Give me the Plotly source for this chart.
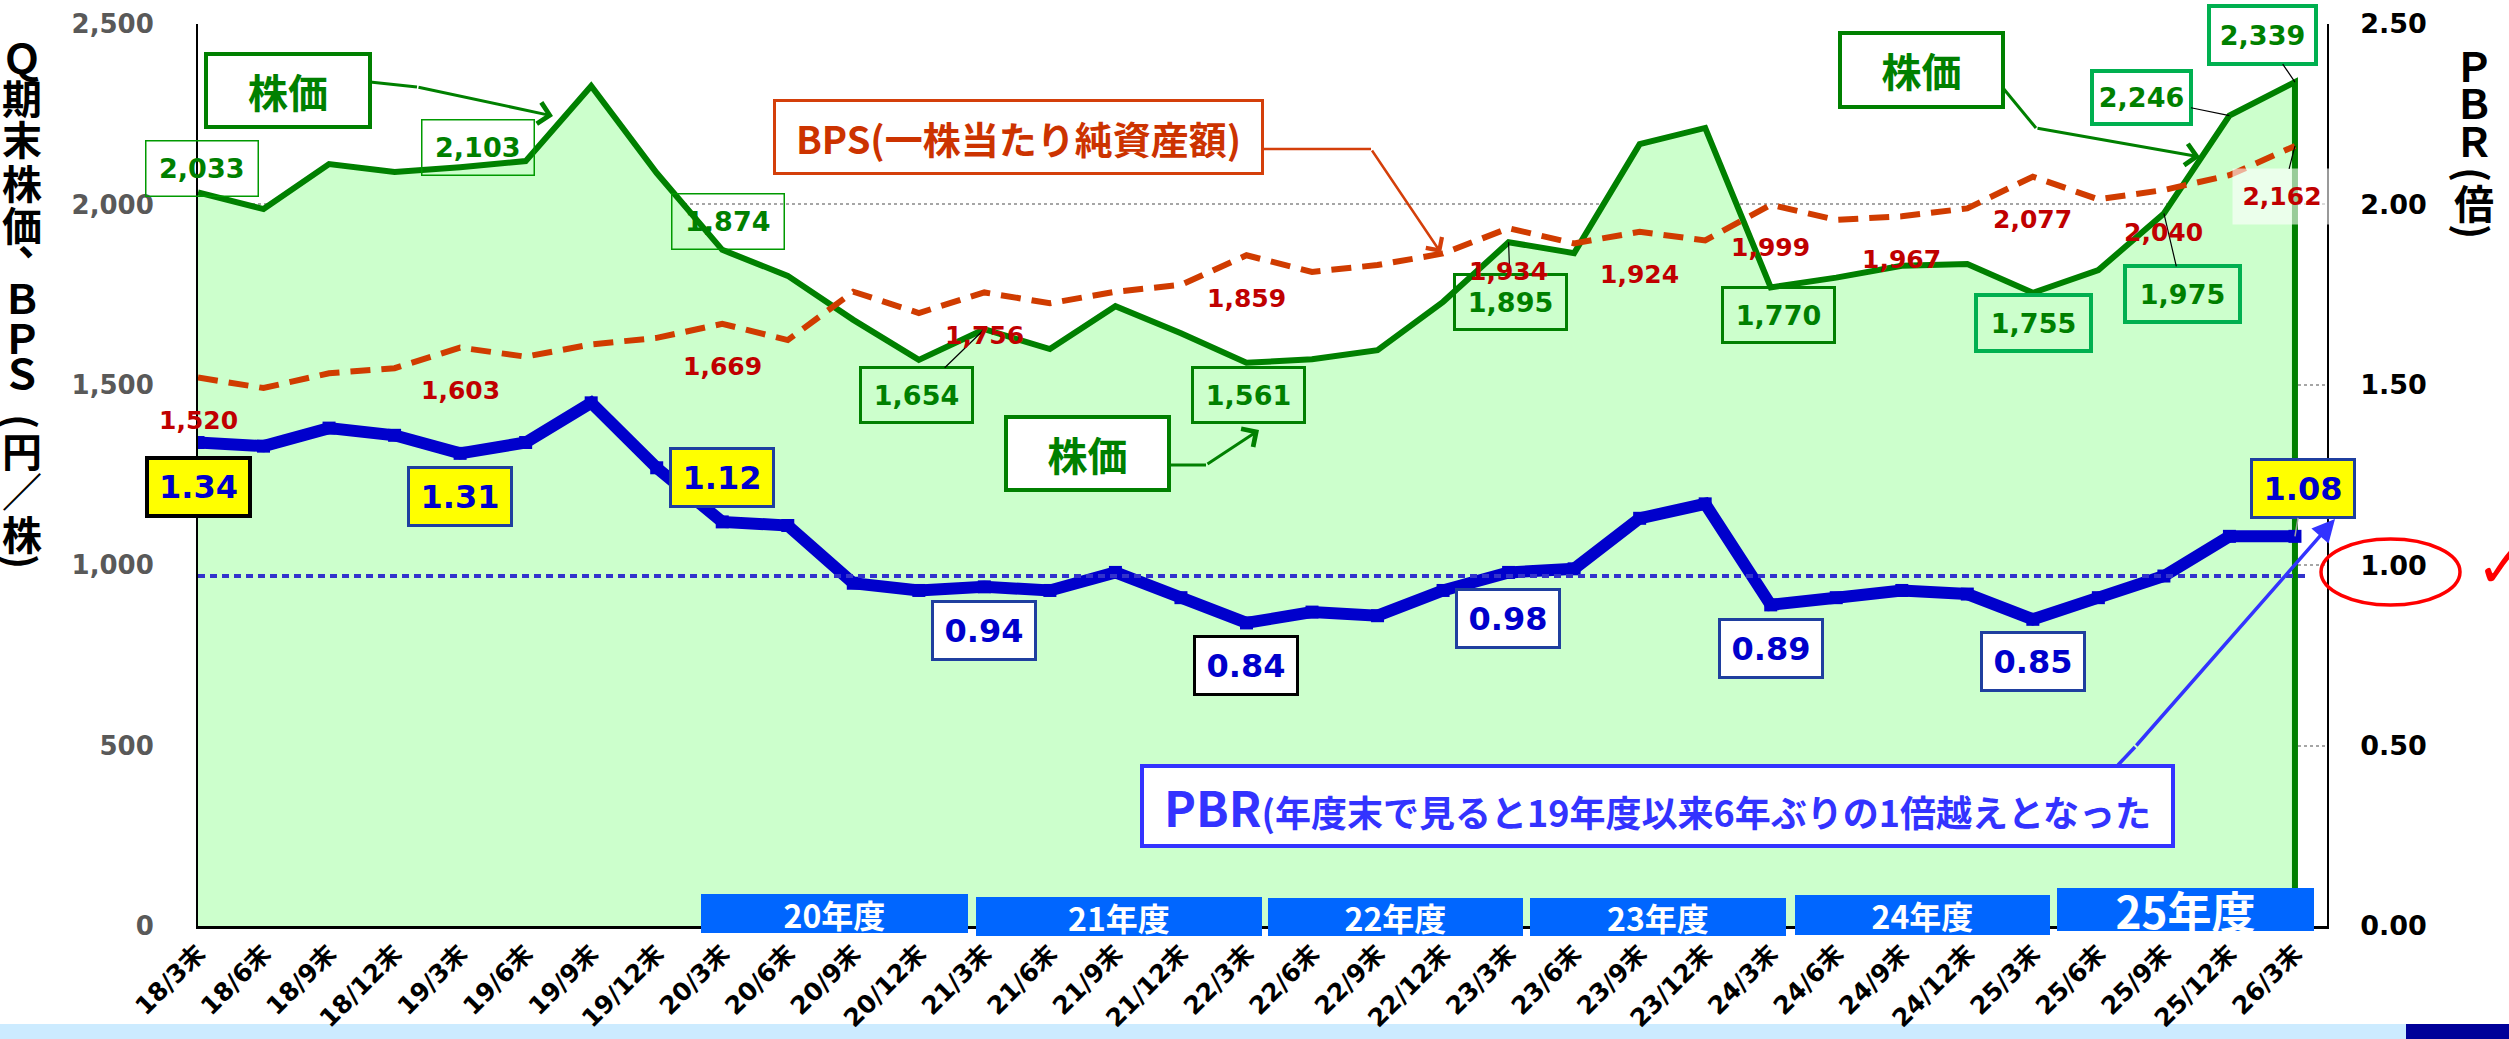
import plotly.graph_objects as go

# ---------------- data ----------------
categories = ["18/3末", "18/6末", "18/9末", "18/12末", "19/3末", "19/6末", "19/9末", "19/12末",
              "20/3末", "20/6末", "20/9末", "20/12末", "21/3末", "21/6末", "21/9末", "21/12末",
              "22/3末", "22/6末", "22/9末", "22/12末", "23/3末", "23/6末", "23/9末", "23/12末",
              "24/3末", "24/6末", "24/9末", "24/12末", "25/3末", "25/6末", "25/9末", "25/12末", "26/3末"]
price = [2033, 1987, 2112, 2090, 2103, 2120, 2328, 2087, 1874, 1802, 1680, 1569, 1654, 1599, 1718, 1643,
         1561, 1571, 1596, 1730, 1895, 1865, 2167, 2212, 1770, 1797, 1830, 1835, 1755, 1818, 1975, 2246, 2339]
bps = [1520, 1491, 1532, 1546, 1603, 1578, 1612, 1630, 1669, 1624, 1758, 1699, 1756, 1726, 1758, 1777,
       1859, 1813, 1832, 1864, 1934, 1892, 1924, 1900, 1999, 1957, 1967, 1989, 2077, 2014, 2040, 2081, 2162]
pbr = [1.34, 1.33, 1.38, 1.36, 1.31, 1.34, 1.45, 1.27, 1.12, 1.11, 0.95, 0.93, 0.94, 0.93, 0.98, 0.91,
       0.84, 0.87, 0.86, 0.93, 0.98, 0.99, 1.13, 1.17, 0.89, 0.91, 0.93, 0.92, 0.85, 0.91, 0.97, 1.08, 1.08]
pbr_guide_level = 0.97
price_label_idx = [0, 4, 8, 12, 16, 20, 24, 28, 30, 31, 32]
bps_label_idx = [0, 4, 8, 12, 16, 20, 22, 24, 26, 28, 30, 32]
pbr_label_idx = [0, 4, 8, 12, 16, 20, 24, 28, 32]
fiscal_years = ["20年度", "21年度", "22年度", "23年度", "24年度", "25年度"]
left_ticks = [0, 500, 1000, 1500, 2000, 2500]
right_ticks = [0.0, 0.5, 1.0, 1.5, 2.0, 2.5]
left_title = ["Ｑ", "期", "末", "株", "価", "、", "Ｂ", "Ｐ", "Ｓ", "(", "円", "／", "株", ")"]
right_title = ["Ｐ", "Ｂ", "Ｒ", "(", "倍", ")"]

# ---------------- geometry ----------------
FIG_W, FIG_H = 2509, 1039
L, T, W, H = 198, 24, 2129, 902
STEP = 65.53
X_MAX = W / STEP


def px2x(px):
    return (px - L) / W


def py2y(py):
    return (T + H - py) / H


JP = "Noto Sans CJK JP"
NUM = "DejaVu Sans, Noto Sans CJK JP"

n = len(categories)
idx = list(range(n))

fig = go.Figure()
fig.add_trace(go.Scatter(x=idx + [idx[-1]], y=price + [0], mode="lines",
                         line=dict(color="#008000", width=6), fill="tozeroy", fillcolor="#CCFFCC",
                         hoverinfo="skip", showlegend=False))
fig.add_trace(go.Scatter(x=idx, y=bps, mode="lines",
                         line=dict(color="#D03C00", width=6, dash="20px,11px"),
                         hoverinfo="skip", showlegend=False))
fig.add_trace(go.Scatter(x=idx, y=pbr, yaxis="y2", mode="lines+markers",
                         line=dict(color="#0000CC", width=12),
                         marker=dict(symbol="square", size=13, color="#0000CC"),
                         hoverinfo="skip", showlegend=False))

ann = []
shapes = []


def box(text, cx, cy, w, h, tcolor, bcolor, bw, size, bg="rgba(0,0,0,0)", family=JP):
    ann.append(dict(text=text, xref="paper", yref="paper", x=px2x(cx), y=py2y(cy),
                    xanchor="center", yanchor="middle", showarrow=False,
                    width=w - bw, height=h - bw, borderpad=0, bordercolor=bcolor,
                    borderwidth=bw, bgcolor=bg, font=dict(family=family, size=size, color=tcolor)))


def seg(x0, y0, x1, y1, color, width):
    shapes.append(dict(type="line", xref="paper", yref="paper", x0=px2x(x0), y0=py2y(y0),
                       x1=px2x(x1), y1=py2y(y1), line=dict(color=color, width=width), layer="above"))


def arrow(tx, ty, hx, hy, color, width, head, size):
    ann.append(dict(text="", xref="paper", yref="paper", x=px2x(hx), y=py2y(hy),
                    ax=tx - hx, ay=ty - hy, axref="pixel", ayref="pixel", showarrow=True,
                    arrowhead=head, arrowsize=size, arrowwidth=width, arrowcolor=color, standoff=0))


# ---- stock price labels ----
price_offsets = {0: (4, 24), 4: (18, 20), 8: (6, 28), 12: (-68, -66), 16: (2, -32), 20: (2, -60),
                 24: (8, -28), 28: (1, -30), 30: (19, -81), 31: (-88, 18), 32: (-32, 47)}
price_leader = {12, 20, 30, 31, 32}
price_boxsize = {31: (99, 53), 32: (107, 58), 28: (115, 56), 30: (115, 56)}
for i in price_label_idx:
    dx, dy = price_offsets[i]
    w, h = price_boxsize.get(i, (112, 55))
    if i in (28, 30, 31, 32):
        bc, bw = "#00B050", 4
    elif i in (0, 4, 8):
        bc, bw = "#009900", 1.5
    else:
        bc, bw = "#008000", 3
    a = dict(text=f"<b>{price[i]:,}</b>", xref="x", yref="y", x=i, y=price[i],
             width=w - bw, height=h - bw, borderpad=0, bordercolor=bc, borderwidth=bw,
             bgcolor="rgba(0,0,0,0)", font=dict(family=NUM, size=27, color="#008000"))
    if i in price_leader:
        a.update(showarrow=True, ax=dx, ay=-dy, arrowhead=0, arrowwidth=1.2, arrowcolor="black")
    else:
        a.update(showarrow=False, xshift=dx, yshift=dy)
    ann.append(a)

# ---- BPS labels ----
for i in bps_label_idx:
    a = dict(text=f"<b>{bps[i]:,}</b>", xref="x", yref="y", x=i, y=bps[i],
             font=dict(family=NUM, size=25, color="#C00000"))
    if i == n - 1:
        a.update(showarrow=True, ax=-13, ay=51, arrowhead=0, arrowwidth=1.2, arrowcolor="black",
                 bgcolor="rgba(255,255,255,0.6)", width=96, height=53)
    else:
        a.update(showarrow=False, yshift=-43)
    ann.append(a)

# ---- PBR labels ----
pbr_offsets = {0: (0, -44), 4: (0, -43), 8: (0, 44), 12: (0, -43.5), 16: (0, -43), 20: (-1, -46.5),
               24: (0, -43.5), 28: (0, -42.5), 32: (8, 47.5)}
for i in pbr_label_idx:
    dx, dy = pbr_offsets[i]
    bg = "#FFFF00" if i in (0, 4, 8, 32) else "white"
    bc = "black" if i in (0, 16) else "#1F3F9F"
    bw = 4 if i == 0 else 3
    a = dict(text=f"<b>{pbr[i]:.2f}</b>", xref="x", yref="y2", x=i, y=pbr[i],
             width=103 - bw, height=58 - bw, borderpad=0, bordercolor=bc, borderwidth=bw,
             bgcolor=bg, font=dict(family=NUM, size=32, color="#0000CC"))
    if i == n - 1:
        a.update(showarrow=True, ax=dx, ay=-dy, arrowhead=0, arrowwidth=1.5, arrowcolor="#A0A0A0")
    else:
        a.update(showarrow=False, xshift=dx, yshift=dy)
    ann.append(a)

# ---- callout boxes ----
box("<b>株価</b>", 288, 90.5, 164, 73, "#008000", "#008000", 4, 40, bg="white")
box("<b>株価</b>", 1087.5, 453.5, 163, 73, "#008000", "#008000", 4, 40, bg="white")
box("<b>株価</b>", 1921.5, 70, 163, 74, "#008000", "#008000", 4, 40, bg="white")
box("<b>BPS(一株当たり純資産額)</b>", 1018, 136.5, 488, 73, "#CC3300", "#D43F0A", 3, 38, bg="white")
box("<b><span style='font-size:48px'>PBR</span>(年度末で見ると19年度以来6年ぶりの1倍越えとなった</b>",
    1657, 806, 1031, 80, "#3333FF", "#3333FF", 4, 36, bg="white")

# arrows
seg(370, 82, 417, 87, "#008000", 3)
arrow(417, 87, 553, 116, "#008000", 3, 4, 1.4)
seg(1169, 465, 1206, 465, "#008000", 3)
arrow(1206, 465, 1259, 430, "#008000", 3, 4, 1.4)
seg(2003, 88, 2036, 128, "#008000", 3)
arrow(2036, 128, 2200, 157, "#008000", 3, 4, 1.4)
seg(1262, 149, 1371, 149, "#D43F0A", 2.5)
arrow(1371, 149, 1441, 253, "#D43F0A", 2.5, 4, 1.5)
seg(2118, 765, 2135, 747, "#3333FF", 3.5)
arrow(2135, 747, 2335, 519, "#3333FF", 3.5, 2, 1.3)

# fiscal-year bands
fy_boxes = [(834.5, 913.5, 267, 39), (1119, 916.5, 286, 39), (1395.5, 917, 255, 38),
            (1658, 917, 256, 38), (1922.5, 915, 255, 40), (2185.5, 909.5, 257, 43)]
for k, (label, (cx, cy, w, h)) in enumerate(zip(fiscal_years, fy_boxes)):
    size = 44 if k == len(fiscal_years) - 1 else 32
    ann.append(dict(text=f"<b>{label}</b>", xref="paper", yref="paper", x=px2x(cx), y=py2y(cy),
                    xanchor="center", yanchor="middle", showarrow=False, width=w, height=h,
                    borderpad=0, borderwidth=0, bgcolor="#0066FF",
                    font=dict(family=JP, size=size, color="white")))


# axis titles (stacked vertical text); brackets rotated to vertical form
def title_char(ch, cx, cy, size):
    rot = 90 if ch in ("(", ")") else 0
    ann.append(dict(text=f"<b>{ch}</b>", xref="paper", yref="paper", x=px2x(cx), y=py2y(cy),
                    xanchor="center", yanchor="middle", showarrow=False, textangle=rot,
                    font=dict(family=JP, size=size, color="black")))


left_pos = [(22, 57), (22, 97), (22, 138), (22, 182), (22, 224), (38, 238), (22, 297), (22, 337),
            (22, 372), (22, 421), (22, 450), (22, 490), (22, 533), (22, 561)]
for ch, (cx, cy) in zip(left_title, left_pos):
    title_char(ch, cx, cy, 40)
right_pos = [(2474, 65), (2474, 102), (2474, 140), (2474, 174), (2474, 202), (2474, 231)]
for ch, (cx, cy) in zip(right_title, right_pos):
    title_char(ch, cx, cy, 40)

# check mark
ann.append(dict(text="✓", xref="paper", yref="paper", x=px2x(2474), y=py2y(566),
                xanchor="left", yanchor="middle", showarrow=False,
                font=dict(family="DejaVu Sans", size=60, color="red")))

# guide line at PBR ~1
shapes.append(dict(type="line", xref="paper", yref="y2", x0=0, x1=px2x(2305),
                   y0=pbr_guide_level, y1=pbr_guide_level,
                   line=dict(color="#3333CC", width=4, dash="7px,5px"), layer="above"))
# red ellipse around 1.00
shapes.append(dict(type="circle", xref="paper", yref="paper", x0=px2x(2321), x1=px2x(2460),
                   y0=py2y(605), y1=py2y(539), line=dict(color="red", width=3.5), layer="above"))
# bottom strip (below tick labels)
shapes.append(dict(type="rect", xref="paper", yref="paper", x0=px2x(0), x1=px2x(FIG_W),
                   y0=py2y(FIG_H), y1=py2y(1024), fillcolor="#CCEBFF", line=dict(width=0),
                   layer="below"))
shapes.append(dict(type="rect", xref="paper", yref="paper", x0=px2x(2406), x1=px2x(FIG_W),
                   y0=py2y(FIG_H), y1=py2y(1024), fillcolor="#000099", line=dict(width=0),
                   layer="below"))

fig.update_layout(
    width=FIG_W, height=FIG_H,
    margin=dict(l=L, r=FIG_W - L - W, t=T, b=FIG_H - T - H, autoexpand=False),
    plot_bgcolor="white", paper_bgcolor="white", hovermode=False, showlegend=False,
    xaxis=dict(range=[0, X_MAX], tickmode="array", tickvals=idx, ticktext=categories,
               tickangle=-45, tickfont=dict(family=NUM, size=25, color="black", weight="bold"),
               showgrid=False, zeroline=False, showline=True, linecolor="black", linewidth=3,
               ticks="", ticklabelstandoff=0),
    yaxis=dict(range=[0, 2500], tickmode="array", tickvals=left_ticks, tickformat=",",
               tickfont=dict(family=NUM, size=26, color="#595959", weight="bold"),
               showgrid=True, gridcolor="#A6A6A6", griddash="dot", gridwidth=1.5,
               zeroline=False, showline=True, linecolor="black", linewidth=2,
               ticks="", ticklabelstandoff=37),
    yaxis2=dict(range=[0, 2.5], overlaying="y", side="right", tickmode="array",
                tickvals=right_ticks, tickformat=".2f",
                tickfont=dict(family=NUM, size=27, color="black", weight="bold"),
                showgrid=False, zeroline=False, showline=True, linecolor="black", linewidth=1.5,
                ticks="", ticklabelstandoff=26),
    annotations=ann, shapes=shapes,
)

fig.write_html("out.html", config={"displayModeBar": False},
               post_script="document.body.style.margin='0';document.body.style.overflow='hidden';")
